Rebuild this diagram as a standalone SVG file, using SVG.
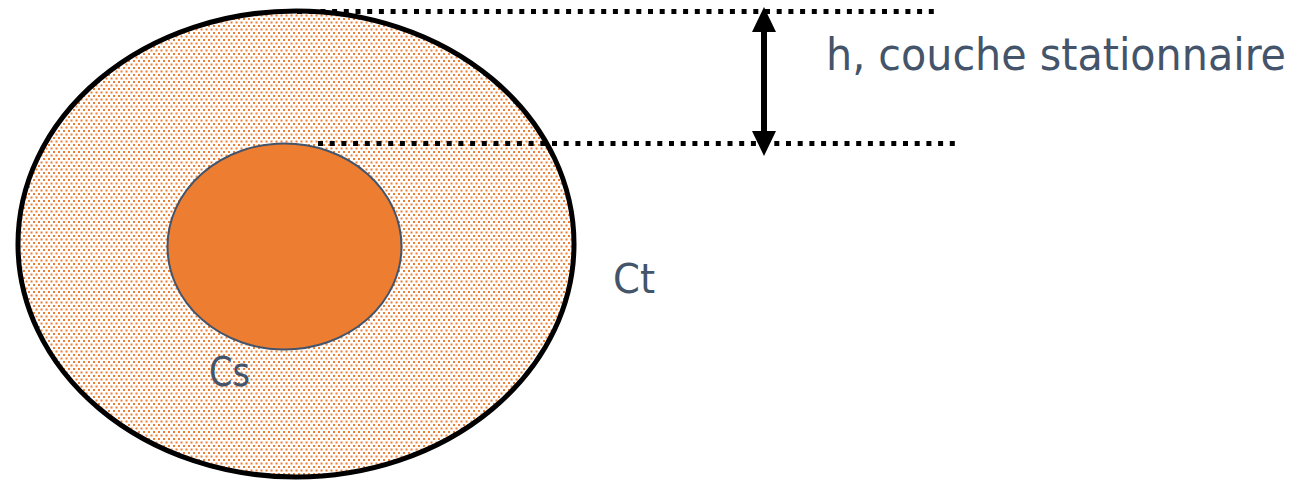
<svg xmlns="http://www.w3.org/2000/svg" width="1299" height="482" viewBox="0 0 1299 482">
  <defs>
    <pattern id="dots" patternUnits="userSpaceOnUse" width="5" height="7">
      <rect x="0" y="0" width="5" height="7" fill="#ffffff"/>
      <rect x="0.5" y="0.5" width="2" height="2" fill="#ED7D31"/>
      <rect x="3" y="4" width="2" height="2" fill="#ED7D31"/>
    </pattern>
    <style>
      .lbl { font-family: "DejaVu Sans", Verdana, sans-serif; fill: #44546A; }
      .cond { font-family: "DejaVu Sans Condensed", "DejaVu Sans", sans-serif; font-stretch: condensed; }
      .dotline { stroke: #000; stroke-width: 5; stroke-dasharray: 5 6.7; fill: none; }
    </style>
  </defs>
  <rect width="1299" height="482" fill="#ffffff"/>
  <g id="outer">
    <ellipse cx="296" cy="244" rx="278" ry="233" fill="url(#dots)" stroke="#000" stroke-width="5"/>
  </g>
  <g id="inner">
    <ellipse cx="284.5" cy="246.5" rx="117" ry="103" fill="#ED7D31" stroke="#44546A" stroke-width="2"/>
  </g>
  <g id="connectors">
    <line class="dotline" x1="297" y1="11.5" x2="935" y2="11.5"/>
    <line class="dotline" x1="318" y1="143.5" x2="957" y2="143.5"/>
    <line x1="764" y1="30" x2="764" y2="132" stroke="#000" stroke-width="6"/>
    <path d="M764,7 L752,32 L776,32 Z" fill="#000"/>
    <path d="M764,156 L752,131 L776,131 Z" fill="#000"/>
  </g>
  <g id="labels">
    <text class="lbl cond" x="826" y="70" font-size="45" textLength="460" lengthAdjust="spacingAndGlyphs">h, couche stationnaire</text>
    <text class="lbl" x="613" y="293" font-size="40" textLength="42" lengthAdjust="spacingAndGlyphs">Ct</text>
    <text class="lbl" x="209" y="386" font-size="40" textLength="41" lengthAdjust="spacingAndGlyphs">Cs</text>
  </g>
</svg>
